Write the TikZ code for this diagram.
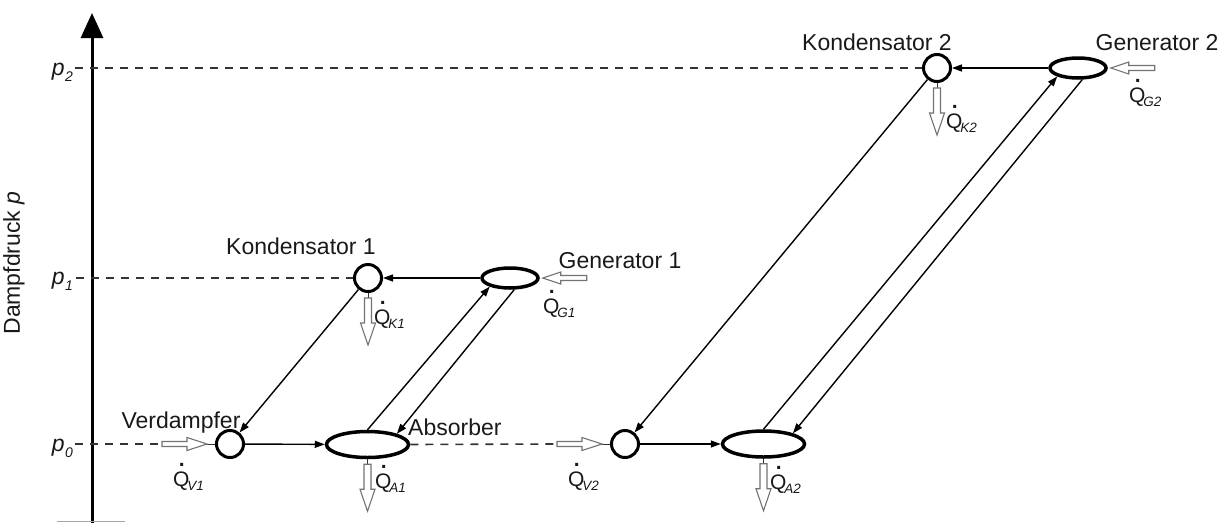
\documentclass[tikz,border=0pt]{standalone}
\usepackage{fontspec}
\setmainfont{Liberation Sans}
\usetikzlibrary{arrows.meta,shapes.geometric,calc}
\newcommand\Qdot{\leavevmode\rlap{\kern0.27em\raisebox{0.95em}{\textbf{.}}}Q}
\newcommand\Qlab[1]{{\fontsize{21}{25}\selectfont\Qdot\kern-0.1em\raisebox{-0.22em}{\fontsize{13.5}{14}\selectfont\itshape #1}}}
\newcommand\plab[1]{\textit{p}\kern0.02em\raisebox{-0.3em}{\fontsize{14}{14}\selectfont\itshape #1}}
\newcommand\heatR[1]{%
  \draw[stub] (#1) -- ++(-8,0);
  \draw[heat] ($(#1)+(-8,0)$) -- ++(-20,-6.5) -- ++(0,4) -- ++(-25,0) -- ++(0,5) -- ++(25,0) -- ++(0,4) -- cycle;}
\newcommand\heatL[1]{%
  \draw[heat] ($(#1)+(3,0)$) -- ++(18,-6) -- ++(0,3.5) -- ++(26,0) -- ++(0,5) -- ++(-26,0) -- ++(0,3.5) -- cycle;}
\newcommand\heatD[1]{%
  \draw[stub] (#1) -- ++(0,5);
  \draw[heat] ($(#1)+(-3.5,5)$) -- ++(0,25) -- ++(-4,0) -- ++(7.5,22) -- ++(7.5,-22) -- ++(-4,0) -- ++(0,-25) -- cycle;}
\tikzset{
  txt/.style={font=\fontsize{23}{27}\selectfont, inner sep=0pt, text=black!90},
  circ/.style={circle, draw=black, line width=3pt, minimum size=27pt, inner sep=0pt, fill=white},
  ell/.style={ellipse, draw=black, line width=3.5pt, inner sep=0pt, fill=white},
  absell/.style={ell, minimum width=82pt, minimum height=26pt},
  genell/.style={ell, minimum width=56pt, minimum height=20pt},
  flow/.style={line width=1.4pt, -{Triangle[length=10pt,width=7pt]}},
  level/.style={line width=1.6pt, black!80, dash pattern=on 8pt off 7pt},
  heat/.style={draw=black!55, line width=1.1pt, fill=white, line join=miter},
  stub/.style={line width=1pt, black!80},
  axis/.style={line width=3pt, -{Triangle[width=22pt,length=25pt]}}
}
\begin{document}
\begin{tikzpicture}[x=1pt, y=-1pt]
\useasboundingbox (0,0) rectangle (1231,523);

% axis
\coordinate (ax0) at (92,523);
\coordinate (ax1) at (92,13);
\draw[axis] (ax0) -- (ax1);
\draw[black!35, line width=1pt] (57,521.5) -- (125,521.5);
\node[txt, rotate=90] (ylab) at (14,263) {Dampfdruck \textit{p}};

% pressure labels
\node[txt, anchor=base east] (lp2) at (73,75) {\plab{2}};
\node[txt, anchor=base east] (lp1) at (73,284) {\plab{1}};
\node[txt, anchor=base east] (lp0) at (73,451) {\plab{0}};
\coordinate (t2) at (75,68);
\coordinate (t1) at (76,278);
\coordinate (t0) at (75,444);

% components
\node[circ] (V1) at (230,444) {};
\node[circ] (K1) at (368,278) {};
\node[absell] (A1) at (367.5,444.5) {};
\node[genell] (G1) at (510,278) {};
\node[circ] (V2) at (625,444) {};
\node[circ] (K2) at (937,68) {};
\node[absell] (A2) at (763.5,444) {};
\node[genell] (G2) at (1078,68) {};

% dashed pressure levels
\coordinate (h1) at (161,444);
\coordinate (h2) at (556,444);
\draw[level] (t2) -- (K2.west);
\draw[level] (t1) -- (K1.west);
\draw[level] (t0) -- (h1);
\draw[level] (A1.east) -- (h2);

% flows stage 1
\draw[flow] (V1) -- (A1);
\draw[flow] (G1) -- (K1);
\draw[flow] (K1) -- (V1);
\draw[flow] (A1.north) -- (G1.203);
\draw[flow] (G1.-70) -- (A1.20);

% flows stage 2
\draw[flow] (V2) -- (A2);
\draw[flow] (G2) -- (K2);
\draw[flow] (K2) -- (V2);
\draw[flow] (A2.north) -- (G2.202);
\draw[flow] (G2.-70) -- (A2.20);

% heat arrows
\heatR{V1.west}
\heatR{V2.west}
\heatL{G1.east}
\heatL{G2.east}
\heatD{K1.south}
\heatD{K2.south}
\heatD{A1.south}
\heatD{A2.south}

% labels
\node[txt, anchor=base] (tK1) at (301,254) {Kondensator 1};
\node[txt, anchor=base] (tG1) at (620,268) {Generator 1};
\node[txt, anchor=base] (tV1) at (181,428) {Verdampfer};
\node[txt, anchor=base west] (tA1) at (408,435) {Absorber};
\node[txt, anchor=base] (tK2) at (877,50) {Kondensator 2};
\node[txt, anchor=base] (tG2) at (1157,50) {Generator 2};

\node[txt, anchor=base west] (qV1) at (173,486) {\Qlab{V1}};
\node[txt, anchor=base west] (qA1) at (375,488) {\Qlab{A1}};
\node[txt, anchor=base west] (qK1) at (374,324) {\Qlab{K1}};
\node[txt, anchor=base west] (qG1) at (543,313) {\Qlab{G1}};
\node[txt, anchor=base west] (qV2) at (568,486) {\Qlab{V2}};
\node[txt, anchor=base west] (qA2) at (770,489) {\Qlab{A2}};
\node[txt, anchor=base west] (qK2) at (946,128) {\Qlab{K2}};
\node[txt, anchor=base west] (qG2) at (1129,102) {\Qlab{G2}};
\end{tikzpicture}
\end{document}
